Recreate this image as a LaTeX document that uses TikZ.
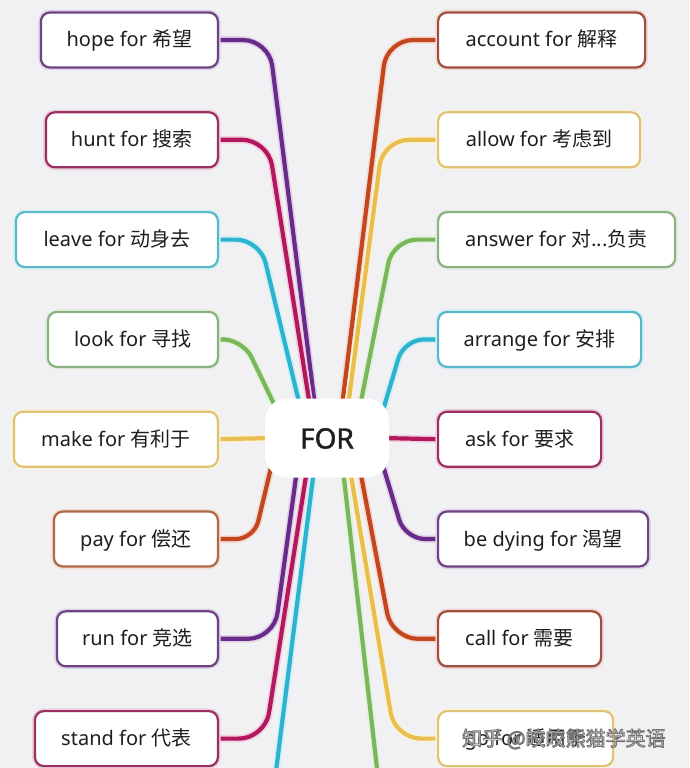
\documentclass[tikz,border=0pt]{standalone}
\usepackage{fontspec}
\setmainfont{Noto Sans}
\newfontfamily\cjk{Noto Sans CJK SC}
\newfontfamily\forfont[FakeBold=1.6]{Noto Sans}
\usetikzlibrary{calc}
\pgfdeclarelayer{back}
\pgfdeclarelayer{bg}
\pgfsetlayers{back,bg,main}
\definecolor{bgc}{HTML}{F1F1F3}
\definecolor{txt}{HTML}{1E1E1E}
% connector colours
\definecolor{cPur}{HTML}{6A2A8A}
\definecolor{cMag}{HTML}{B3185E}
\definecolor{cCya}{HTML}{2CB3CF}
\definecolor{cGre}{HTML}{79B85A}
\definecolor{cYel}{HTML}{E8BE4E}
\definecolor{cOra}{HTML}{C4461F}
% box border colours
\definecolor{bPur}{HTML}{6E4386}
\definecolor{bMag}{HTML}{9C2F62}
\definecolor{bCya}{HTML}{56B8C8}
\definecolor{bGre}{HTML}{88B27F}
\definecolor{bYel}{HTML}{E0C274}
\definecolor{bOra}{HTML}{B06848}
\definecolor{bRed}{HTML}{A24E3C}
\newcommand{\outlinetext}[1]{\special{pdf:literal direct 2 Tr 0.9 w 0.45 G}#1\special{pdf:literal direct 0 Tr 0 G}}
\tikzset{
  wbox/.style={draw=#1, line width=2.2, rounded corners=9, fill=white,
    minimum height=55, inner sep=0, text=txt, text height=18, text depth=4,
    font=\fontsize{20}{24}\selectfont, preaction={draw=#1!22, line width=5.5}},
  lbox/.style={wbox=#1, anchor=east},
  rbox/.style={wbox=#1, anchor=west},
  conn/.style={draw=#1, line width=4.2, line cap=round,
    preaction={draw=#1!20, line width=7.5}},
  hub/.style={fill=white, rounded corners=22, minimum width=124, minimum height=79,
    inner sep=0, text=txt, text height=21, text depth=0,
    font=\forfont\fontsize{28}{32}\selectfont},
  wmark/.style={anchor=west, inner sep=0, text=white, font=\cjk\fontsize{20}{24}\selectfont},
}
\begin{document}
\begin{tikzpicture}[x=1pt,y=-1pt]
\useasboundingbox (0,0) rectangle (689,768);
\begin{pgfonlayer}{back}
\fill[bgc] (0,0) rectangle (689,768);
\end{pgfonlayer}

\node[hub] (FOR) at (327,438) {FOR};

% left boxes
\node[lbox=bPur, minimum width=177] (hope)  at (219,40.0)  {hope for {\cjk 希望}};
\node[lbox=bMag, minimum width=172] (hunt)  at (219,139.8) {hunt for {\cjk 搜索}};
\node[lbox=bCya, minimum width=202] (leave) at (219,239.6) {leave for {\cjk 动身去}};
\node[lbox=bGre, minimum width=170] (look)  at (219,339.4) {look for {\cjk 寻找}};
\node[lbox=bYel, minimum width=204] (make)  at (219,439.2) {make for {\cjk 有利于}};
\node[lbox=bOra, minimum width=164] (pay)   at (219,539.0) {pay for {\cjk 偿还}};
\node[lbox=bPur, minimum width=161] (run)   at (219,638.8) {run for {\cjk 竞选}};
\node[lbox=bMag, minimum width=183] (stand) at (219,738.6) {stand for {\cjk 代表}};

% right boxes
\node[rbox=bRed, minimum width=207] (account) at (437,40.0)  {account for {\cjk 解释}};
\node[rbox=bYel, minimum width=202] (allow)   at (437,139.8) {allow for {\cjk 考虑到}};
\node[rbox=bGre, minimum width=237] (answer)  at (437,239.6) {answer for {\cjk 对...负责}};
\node[rbox=bCya, minimum width=203] (arrange) at (437,339.4) {arrange for {\cjk 安排}};
\node[rbox=bMag, minimum width=163] (ask)     at (437,439.2) {ask for {\cjk 要求}};
\node[rbox=bPur, minimum width=210] (dying)   at (437,539.0) {be dying for {\cjk 渴望}};
\node[rbox=bRed, minimum width=163] (call)    at (437,638.8) {call for {\cjk 需要}};
\node[rbox=bYel, minimum width=175] (gofor)   at (437,738.6) {go for {\cjk 适用于}};

\coordinate (cyanEnd)  at (273,795);
\coordinate (greenEnd) at (380,795);

\begin{pgfonlayer}{bg}
  % top-left
  \draw[conn=cPur, rounded corners=26] (hope.east)  -- (269,40)    -- ($(FOR.north)+(-12,8)$);
  \draw[conn=cMag, rounded corners=26] (hunt.east)  -- (268,139.8) -- ($(FOR.north)+(-17,8)$);
  \draw[conn=cCya, rounded corners=24] (leave.east) -- (260,239.6) -- ($(FOR.north)+(-27,8)$);
  \draw[conn=cGre, rounded corners=20] (look.east)  -- (243,339.4) -- ($(FOR.north)+(-50,12)$);
  \draw[conn=cYel] (make.east) -- ($(FOR.west)+(8,0)$);
  % bottom-left
  \draw[conn=cOra, rounded corners=18] (pay.east)   -- (254,539)   -- ($(FOR.south)+(-56,-10)$);
  \draw[conn=cPur, rounded corners=26] (run.east)   -- (274,638.8) -- ($(FOR.south)+(-30,-8)$);
  \draw[conn=cMag, rounded corners=26] (stand.east) -- (265,738.6) -- ($(FOR.south)+(-20,-8)$);
  \draw[conn=cCya] ($(FOR.south)+(-13,-8)$) -- (cyanEnd);
  % top-right
  \draw[conn=cOra, rounded corners=26] (account.west) -- (387,40)    -- ($(FOR.north)+(15,8)$);
  \draw[conn=cYel, rounded corners=26] (allow.west)   -- (383,139.8) -- ($(FOR.north)+(21,8)$);
  \draw[conn=cGre, rounded corners=24] (answer.west)  -- (393,239.6) -- ($(FOR.north)+(33,8)$);
  \draw[conn=cCya, rounded corners=20] (arrange.west) -- (404,339.4) -- ($(FOR.north)+(56,12)$);
  \draw[conn=cMag] (ask.west) -- ($(FOR.east)+(-8,0)$);
  % bottom-right
  \draw[conn=cPur, rounded corners=20] (dying.west) -- (405,539)   -- ($(FOR.south)+(56,-12)$);
  \draw[conn=cOra, rounded corners=26] (call.west)  -- (392,638.8) -- ($(FOR.south)+(33,-8)$);
  \draw[conn=cYel, rounded corners=26] (gofor.west) -- (395,738.6) -- ($(FOR.south)+(23,-8)$);
  \draw[conn=cGre] ($(FOR.south)+(16,-8)$) -- (greenEnd);
\end{pgfonlayer}

% watermark
\node[wmark] (wm) at (462,739) {\outlinetext{知乎 @皎皎熊猫学英语}};
\end{tikzpicture}
\end{document}
